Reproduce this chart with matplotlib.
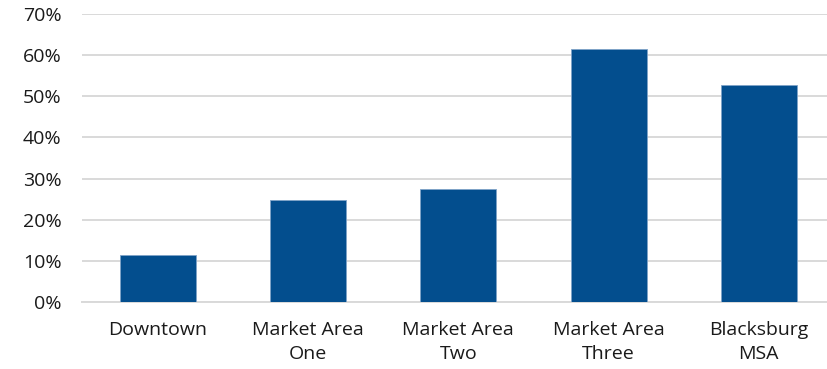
import matplotlib.pyplot as plt
from matplotlib.ticker import FuncFormatter

categories = ['Downtown', 'Market Area\nOne', 'Market Area\nTwo', 'Market Area\nThree', 'Blacksburg\nMSA']
shares = [11.4, 24.9, 27.4, 61.4, 52.7]  # percent

plt.rcParams['font.family'] = ['Open Sans', 'DejaVu Sans']

fig = plt.figure(figsize=(8.28, 3.69), dpi=100)
ax = fig.add_axes([82.5 / 828, 67 / 369, 745.5 / 828, 288 / 369])

x = range(len(categories))
ax.bar(x, shares, width=0.505, color='#034E8E', edgecolor='#7FA3C8', linewidth=0.6, zorder=3)

ax.set_xlim(-0.5, 4.46)
ax.set_ylim(0, 70)
ax.set_yticks(range(0, 71, 10))
ax.yaxis.set_major_formatter(FuncFormatter(lambda v, p: f'{int(v)}%'))
ax.set_xticks(list(x))
ax.set_xticklabels(categories, linespacing=1.4)

ax.grid(axis='y', color='#d9d9d9', linewidth=1.4, zorder=0)
for s in ['top', 'right', 'left']:
    ax.spines[s].set_visible(False)
ax.spines['bottom'].set_color('#d9d9d9')
ax.spines['bottom'].set_linewidth(1.4)
ax.tick_params(axis='both', length=0, labelsize=14, colors='#1a1a1a')
ax.tick_params(axis='y', pad=15)
ax.tick_params(axis='x', pad=14)

fig.savefig('out.png', dpi=100)
